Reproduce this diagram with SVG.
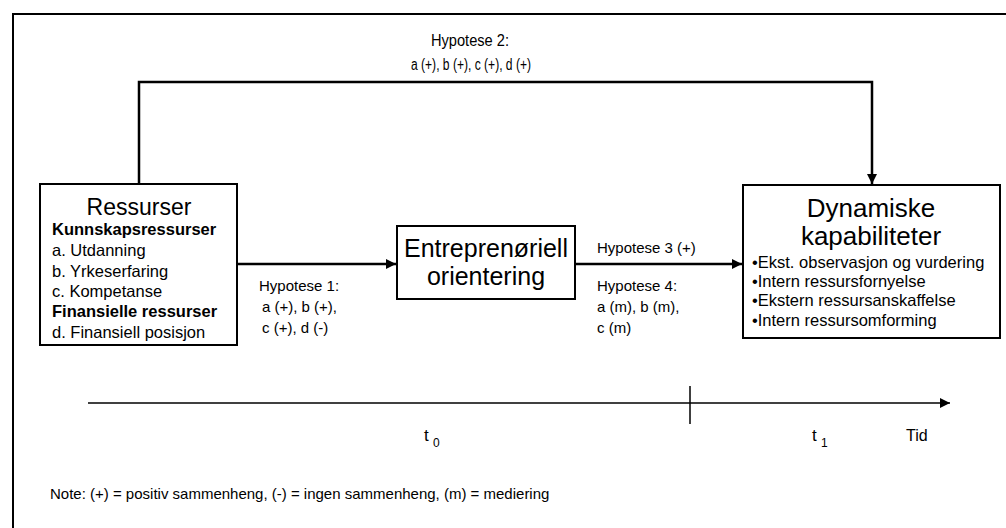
<svg xmlns="http://www.w3.org/2000/svg" width="1006" height="528" viewBox="0 0 1006 528">
<defs>
<marker id="ah" viewBox="0 0 10 10" refX="10" refY="5" markerWidth="10" markerHeight="10" markerUnits="userSpaceOnUse" orient="auto">
<path d="M0,0 L10,5 L0,10 z" fill="#000"/>
</marker>
<style>
text{font-family:"Liberation Sans",Arial,sans-serif;fill:#000}
.box{fill:#fff;stroke:#000;stroke-width:2}
.con{fill:none;stroke:#000;stroke-width:2.5}
.lbl{font-size:15px}
.item{font-size:16.5px}
.b{font-weight:bold}
.bul{font-size:16.5px}
.cond{font-size:16px}
</style>
</defs>
<rect width="1006" height="528" fill="#fff"/>
<path d="M13,528 V14 H1006" fill="none" stroke="#000" stroke-width="2"/>

<g id="connectors">
<path class="con" d="M139,184 V82 H872 V184" marker-end="url(#ah)"/>
<path class="con" d="M237,264 H396" marker-end="url(#ah)"/>
<path class="con" d="M575,264 H742" marker-end="url(#ah)"/>
</g>

<g id="label-h2">
<text x="470" y="46" text-anchor="middle" class="cond" textLength="78" lengthAdjust="spacingAndGlyphs">Hypotese 2:</text>
<text x="471" y="70" text-anchor="middle" class="cond" textLength="120" lengthAdjust="spacingAndGlyphs">a (+), b (+), c (+), d (+)</text>
</g>

<g id="node-ressurser">
<rect class="box" x="40" y="184" width="197" height="161"/>
<text x="139" y="215" text-anchor="middle" font-size="23">Ressurser</text>
<text x="52" y="235" class="item b">Kunnskapsressurser</text>
<text x="52" y="256" class="item">a. Utdanning</text>
<text x="52" y="277" class="item">b. Yrkeserfaring</text>
<text x="52" y="297" class="item">c. Kompetanse</text>
<text x="52" y="317" class="item b">Finansielle ressurser</text>
<text x="52" y="338" class="item">d. Finansiell posisjon</text>
</g>

<g id="node-entreprenoriell">
<rect class="box" x="397" y="226" width="178" height="73"/>
<text x="486" y="257" text-anchor="middle" font-size="25">Entreprenøriell</text>
<text x="486" y="285" text-anchor="middle" font-size="25">orientering</text>
</g>

<g id="label-h1">
<text x="259" y="291" class="lbl">Hypotese 1:</text>
<text x="262" y="312" class="lbl">a (+), b (+),</text>
<text x="262" y="333" class="lbl">c (+), d (-)</text>
</g>

<g id="label-h3h4">
<text x="597" y="253" class="lbl">Hypotese 3 (+)</text>
<text x="597" y="291" class="lbl">Hypotese 4:</text>
<text x="597" y="312" class="lbl">a (m), b (m),</text>
<text x="597" y="333" class="lbl">c (m)</text>
</g>

<g id="node-dynamiske">
<rect class="box" x="743" y="185" width="257" height="153"/>
<text x="871" y="217" text-anchor="middle" font-size="26">Dynamiske</text>
<text x="871" y="245" text-anchor="middle" font-size="26">kapabiliteter</text>
<text x="752" y="268" class="bul">•Ekst. observasjon og vurdering</text>
<text x="752" y="287" class="bul">•Intern ressursfornyelse</text>
<text x="752" y="306" class="bul">•Ekstern ressursanskaffelse</text>
<text x="752" y="326" class="bul">•Intern ressursomforming</text>
</g>

<g id="timeline">
<line x1="88" y1="403" x2="950" y2="403" stroke="#000" stroke-width="1.5" marker-end="url(#ah)"/>
<line x1="690" y1="386" x2="690" y2="424" stroke="#000" stroke-width="1.5"/>
<text x="424" y="441" font-size="17">t</text>
<text x="433" y="447" font-size="12">0</text>
<text x="812" y="441" font-size="17">t</text>
<text x="821" y="447" font-size="12">1</text>
<text x="906" y="441" font-size="16">Tid</text>
</g>

<g id="note">
<text x="50" y="499" class="lbl">Note: (+) = positiv sammenheng, (-) = ingen sammenheng, (m) = mediering</text>
</g>
</svg>
